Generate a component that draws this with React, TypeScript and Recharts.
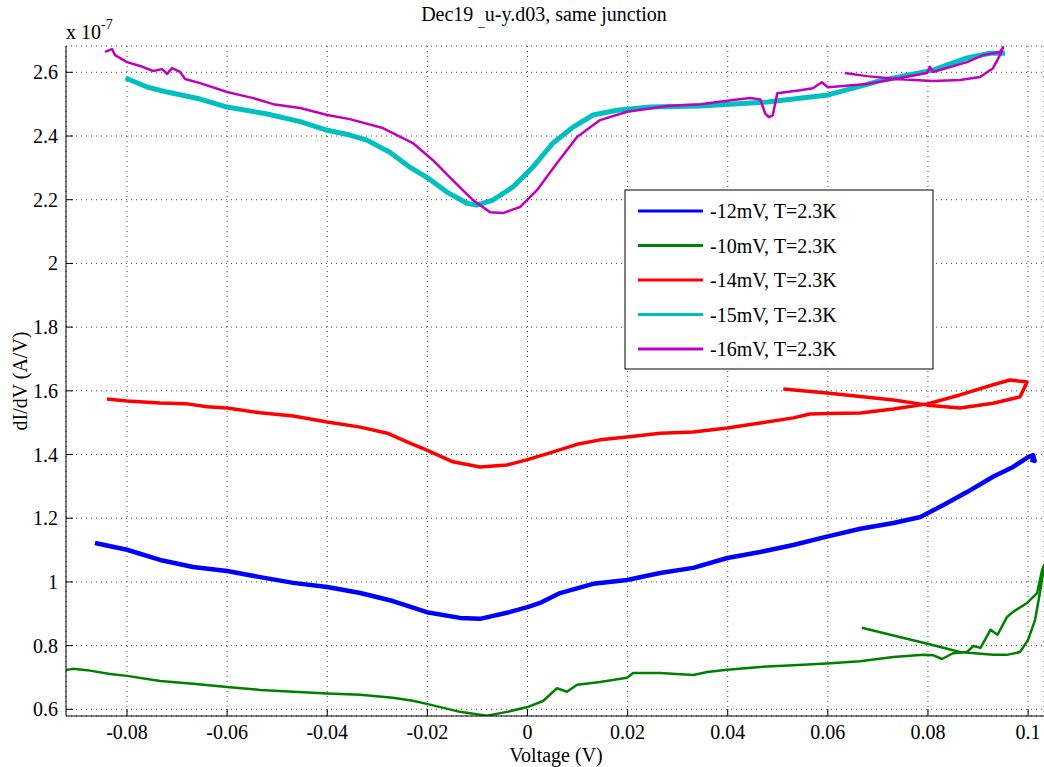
import React from "react"
import { CartesianGrid, Line, LineChart, XAxis, YAxis } from "recharts"

// voltage (V) vs dI/dV (units of 1e-7 A/V)
const blue12: number[][] = [
  [-0.0864, 1.122], [-0.08, 1.101], [-0.0734, 1.069], [-0.0668, 1.047], [-0.06, 1.034],
  [-0.0534, 1.015], [-0.0468, 0.997], [-0.04, 0.984], [-0.0334, 0.965], [-0.0269, 0.94],
  [-0.0201, 0.905], [-0.0135, 0.887], [-0.0095, 0.884], [-0.0041, 0.903], [0, 0.921],
  [0.0025, 0.934], [0.0065, 0.965], [0.0131, 0.994], [0.0199, 1.006], [0.0265, 1.028],
  [0.0331, 1.044], [0.0399, 1.075], [0.0465, 1.094], [0.0531, 1.116], [0.0598, 1.142],
  [0.0665, 1.167], [0.0731, 1.185], [0.0785, 1.204], [0.083, 1.241], [0.0878, 1.282],
  [0.093, 1.33], [0.097, 1.361], [0.1, 1.392], [0.101, 1.398], [0.1013, 1.38], [0.1005, 1.385],
]

const green10: number[][] = [
  [-0.0922, 0.723], [-0.0908, 0.727], [-0.088, 0.723], [-0.0834, 0.711], [-0.08, 0.705],
  [-0.0734, 0.689], [-0.0668, 0.68], [-0.06, 0.67], [-0.0534, 0.661], [-0.0468, 0.655],
  [-0.04, 0.65], [-0.0334, 0.646], [-0.0269, 0.636], [-0.0229, 0.627], [-0.0201, 0.617],
  [-0.0135, 0.592], [-0.0081, 0.58], [-0.0041, 0.592], [0, 0.607], [0.0031, 0.626],
  [0.0059, 0.666], [0.0079, 0.655], [0.0099, 0.677], [0.0145, 0.686], [0.0199, 0.699],
  [0.0211, 0.714], [0.0265, 0.714], [0.0331, 0.708], [0.0359, 0.717], [0.0399, 0.724],
  [0.0465, 0.733], [0.0531, 0.738], [0.0598, 0.744], [0.0664, 0.751], [0.0731, 0.764],
  [0.0791, 0.771], [0.081, 0.77], [0.0828, 0.758], [0.085, 0.776], [0.0878, 0.78],
  [0.0891, 0.799], [0.0905, 0.793], [0.0925, 0.85], [0.0939, 0.834], [0.0958, 0.89],
  [0.097, 0.906], [0.0998, 0.934], [0.1018, 0.965], [0.1028, 1.037], [0.1032, 1.053],
  [0.103, 1.03], [0.1024, 0.969], [0.1014, 0.881], [0.1, 0.818], [0.0984, 0.78],
  [0.0958, 0.771], [0.093, 0.771], [0.0864, 0.78], [0.0799, 0.806], [0.0731, 0.832],
  [0.0668, 0.856],
]

const red14: number[][] = [
  [-0.084, 1.574], [-0.08, 1.568], [-0.0734, 1.562], [-0.068, 1.559], [-0.064, 1.55],
  [-0.06, 1.546], [-0.0534, 1.531], [-0.0468, 1.521], [-0.04, 1.502], [-0.0334, 1.486],
  [-0.028, 1.467], [-0.0235, 1.436], [-0.0201, 1.414], [-0.0149, 1.377], [-0.0095, 1.361],
  [-0.0041, 1.367], [0, 1.384], [0.0045, 1.405], [0.0099, 1.432], [0.0145, 1.446],
  [0.0199, 1.455], [0.0265, 1.467], [0.0331, 1.471], [0.0399, 1.483], [0.0465, 1.499],
  [0.0531, 1.515], [0.0564, 1.527], [0.0598, 1.529], [0.0665, 1.53], [0.0731, 1.543],
  [0.0799, 1.559], [0.0864, 1.587], [0.093, 1.619], [0.0964, 1.634], [0.0998, 1.628],
  [0.0984, 1.581], [0.093, 1.561], [0.0864, 1.546], [0.0799, 1.555], [0.0731, 1.571],
  [0.0598, 1.593], [0.0511, 1.606],
]

const cyan15: number[][] = [
  [-0.0803, 2.582], [-0.076, 2.554], [-0.072, 2.538], [-0.0654, 2.516], [-0.06, 2.491],
  [-0.052, 2.469], [-0.0454, 2.445], [-0.04, 2.418], [-0.0355, 2.403], [-0.0321, 2.387],
  [-0.0275, 2.349], [-0.0235, 2.302], [-0.0199, 2.268], [-0.0161, 2.224], [-0.0121, 2.189],
  [-0.0101, 2.183], [-0.0069, 2.199], [-0.0029, 2.24], [0.0011, 2.303], [0.0051, 2.378],
  [0.0091, 2.428], [0.0131, 2.466], [0.0179, 2.481], [0.0245, 2.491], [0.0345, 2.494],
  [0.0479, 2.507], [0.0601, 2.529], [0.0711, 2.576], [0.081, 2.607], [0.0878, 2.645],
  [0.0924, 2.66], [0.0954, 2.66],
]

const magenta16: number[][] = [
  [-0.0844, 2.664], [-0.083, 2.673], [-0.0824, 2.654], [-0.08, 2.632], [-0.0774, 2.62],
  [-0.0748, 2.604], [-0.073, 2.61], [-0.072, 2.595], [-0.071, 2.613], [-0.0694, 2.601],
  [-0.0684, 2.579], [-0.0654, 2.566], [-0.06, 2.538], [-0.0548, 2.519], [-0.0508, 2.5],
  [-0.0454, 2.488], [-0.04, 2.466], [-0.0355, 2.453], [-0.0289, 2.425], [-0.0229, 2.378],
  [-0.0189, 2.324], [-0.0149, 2.261], [-0.0109, 2.199], [-0.0075, 2.161], [-0.0049, 2.158],
  [-0.0015, 2.177], [0.0019, 2.23], [0.0059, 2.315], [0.0099, 2.397], [0.0145, 2.45],
  [0.0199, 2.476], [0.0279, 2.494], [0.0345, 2.5], [0.0411, 2.513], [0.0445, 2.519],
  [0.0465, 2.515], [0.0475, 2.47], [0.0482, 2.459], [0.049, 2.465], [0.0499, 2.534],
  [0.0545, 2.544], [0.057, 2.55], [0.0588, 2.569], [0.06, 2.553], [0.0678, 2.563],
  [0.0744, 2.582], [0.0798, 2.598], [0.0804, 2.617], [0.081, 2.601], [0.0878, 2.632],
  [0.091, 2.654], [0.0944, 2.664], [0.095, 2.679], [0.0946, 2.66], [0.093, 2.613],
  [0.0904, 2.585], [0.0864, 2.576], [0.081, 2.573], [0.0744, 2.578], [0.0678, 2.588],
  [0.0634, 2.598],
]

const xTicks = [-0.08, -0.06, -0.04, -0.02, 0, 0.02, 0.04, 0.06, 0.08, 0.1]
const yTicks = [0.6, 0.8, 1, 1.2, 1.4, 1.6, 1.8, 2, 2.2, 2.4, 2.6]

const series = [
  { name: "-12mV, T=2.3K", color: "#0000ff", width: 4.5, points: blue12 },
  { name: "-10mV, T=2.3K", color: "#008000", width: 2.5, points: green10 },
  { name: "-14mV, T=2.3K", color: "#ff0000", width: 3.5, points: red14 },
  { name: "-15mV, T=2.3K", color: "#00bfbf", width: 5, points: cyan15 },
  { name: "-16mV, T=2.3K", color: "#bf00bf", width: 2.5, points: magenta16 },
]

const FONT = "'Liberation Serif', 'DejaVu Serif', serif"
const TICK = 7

const fmt = (v: number) => String(Math.round(v * 100) / 100)

const BottomTick = ({ x, y, payload }: any) => (
  <g>
    <line x1={x} x2={x} y1={y} y2={y - TICK} stroke="#000" />
    <text x={x} y={y + 23} textAnchor="middle" fontSize={20} fontFamily={FONT} fill="#000">
      {fmt(payload.value)}
    </text>
  </g>
)

const LeftTick = ({ x, y, payload }: any) => (
  <g>
    <line x1={x} x2={x + TICK} y1={y} y2={y} stroke="#000" />
    <text x={x - 8} y={y + 7} textAnchor="end" fontSize={20} fontFamily={FONT} fill="#000">
      {fmt(payload.value)}
    </text>
  </g>
)

const TopTick = ({ x, y }: any) => <line x1={x} x2={x} y1={y} y2={y + TICK} stroke="#000" />
const RightTick = ({ x, y }: any) => <line x1={x - TICK} x2={x} y1={y} y2={y} stroke="#000" />

export default function App() {
  return (
    <div style={{ position: "absolute", left: 0, top: 0, width: 1044, height: 767, background: "#fff", fontFamily: FONT }}>
      <LineChart width={1044} height={767} margin={{ top: 46, right: 0, bottom: 0, left: 0 }}>
        <CartesianGrid stroke="#444" strokeDasharray="1 4" />
        <XAxis
          type="number"
          dataKey="v"
          domain={[-0.09219, 0.10318]}
          ticks={xTicks}
          allowDataOverflow
          height={51}
          tickSize={0}
          tickMargin={0}
          tickLine={false}
          axisLine={{ stroke: "#000" }}
          tick={<BottomTick />}
          interval={0}
        />
        <XAxis
          xAxisId="top"
          orientation="top"
          type="number"
          dataKey="v"
          domain={[-0.09219, 0.10318]}
          ticks={xTicks}
          allowDataOverflow
          height={0}
          tickSize={0}
          tickMargin={0}
          tickLine={false}
          axisLine={{ stroke: "#000" }}
          tick={<TopTick />}
          interval={0}
        />
        <YAxis
          type="number"
          domain={[0.579, 2.6826]}
          ticks={yTicks}
          allowDataOverflow
          width={66}
          tickSize={0}
          tickMargin={0}
          tickLine={false}
          axisLine={{ stroke: "#000" }}
          tick={<LeftTick />}
          interval={0}
        />
        <YAxis
          yAxisId="right"
          orientation="right"
          type="number"
          domain={[0.579, 2.6826]}
          ticks={yTicks}
          allowDataOverflow
          width={0}
          tickSize={0}
          tickMargin={0}
          tickLine={false}
          axisLine={{ stroke: "#000" }}
          tick={<RightTick />}
          interval={0}
        />
        {series.map((s) => (
          <Line
            key={s.name}
            data={s.points.map(([v, g]) => ({ v, g }))}
            dataKey="g"
            type="linear"
            stroke={s.color}
            strokeWidth={s.width}
            strokeLinejoin="round"
            dot={false}
            activeDot={false}
            isAnimationActive={false}
          />
        ))}
      </LineChart>

      <svg width={1044} height={767} style={{ position: "absolute", left: 0, top: 0, pointerEvents: "none" }}>
        <text x={544} y={21} textAnchor="middle" fontSize={20} fontFamily={FONT} fill="#000">
          Dec19{" "}
          <tspan fontSize={13} dy={5}>_</tspan>
          <tspan fontSize={20} dy={-5}>u-y.d03, same junction</tspan>
        </text>
        <text x={66} y={39} fontSize={20} fontFamily={FONT} fill="#000">
          x 10
          <tspan fontSize={14} dy={-10}>-7</tspan>
        </text>
        <text x={556} y={762} textAnchor="middle" fontSize={20} fontFamily={FONT} fill="#000">
          Voltage (V)
        </text>
        <text
          x={27}
          y={381}
          transform="rotate(-90 27 381)"
          textAnchor="middle"
          fontSize={20}
          fontFamily={FONT}
          fill="#000"
        >
          dI/dV (A/V)
        </text>

        <rect x={625} y={190} width={308} height={179} fill="#fff" stroke="#000" strokeWidth={1} />
        {series.map((s, i) => (
          <g key={s.name}>
            <line x1={638} x2={703} y1={211 + i * 34.5} y2={211 + i * 34.5} stroke={s.color} strokeWidth={3} />
            <text x={710} y={218 + i * 34.5} fontSize={20} fontFamily={FONT} fill="#000">
              {s.name}
            </text>
          </g>
        ))}
      </svg>
    </div>
  )
}
